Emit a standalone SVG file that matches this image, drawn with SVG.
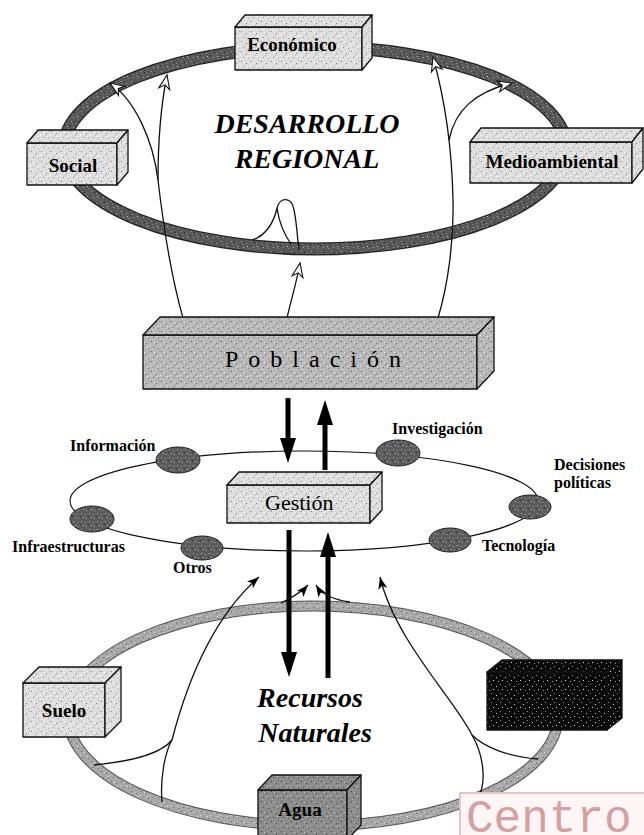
<svg xmlns="http://www.w3.org/2000/svg" width="644" height="835" viewBox="0 0 644 835">
<defs>
<pattern id="pL" width="10" height="10" patternUnits="userSpaceOnUse">
<rect width="10" height="10" fill="#dedede"/>
<rect x="1" y="1" width="1" height="1" fill="#8a8a8a"/><rect x="6" y="3" width="1" height="1" fill="#7c7c7c"/>
<rect x="3" y="7" width="1" height="1" fill="#909090"/><rect x="8" y="8" width="1" height="1" fill="#a0a0a0"/>
<rect x="4" y="2" width="1" height="1" fill="#fff"/><rect x="0" y="5" width="1" height="1" fill="#fff"/>
<rect x="7" y="6" width="1" height="1" fill="#fff"/><rect x="2" y="9" width="1" height="1" fill="#f4f4f4"/>
<rect x="5" y="5" width="1" height="1" fill="#b0b0b0"/><rect x="9" y="1" width="1" height="1" fill="#b4b4b4"/>
</pattern>
<pattern id="pM" width="10" height="10" patternUnits="userSpaceOnUse">
<rect width="10" height="10" fill="#b9b9b9"/>
<rect x="1" y="1" width="1" height="1" fill="#606060"/><rect x="6" y="3" width="1" height="1" fill="#6a6a6a"/>
<rect x="3" y="7" width="1" height="1" fill="#707070"/><rect x="8" y="8" width="1" height="1" fill="#777"/>
<rect x="4" y="2" width="1" height="1" fill="#eee"/><rect x="0" y="5" width="1" height="1" fill="#e6e6e6"/>
<rect x="7" y="6" width="1" height="1" fill="#f2f2f2"/><rect x="2" y="9" width="1" height="1" fill="#ddd"/>
<rect x="5" y="5" width="1" height="1" fill="#888"/><rect x="9" y="1" width="1" height="1" fill="#909090"/>
</pattern>
<pattern id="pA" width="10" height="10" patternUnits="userSpaceOnUse">
<rect width="10" height="10" fill="#8c8c8c"/>
<rect x="1" y="1" width="1" height="1" fill="#3c3c3c"/><rect x="6" y="3" width="1" height="1" fill="#444"/>
<rect x="3" y="7" width="1" height="1" fill="#4a4a4a"/><rect x="8" y="8" width="1" height="1" fill="#555"/>
<rect x="4" y="2" width="1" height="1" fill="#c8c8c8"/><rect x="0" y="5" width="1" height="1" fill="#bdbdbd"/>
<rect x="7" y="6" width="1" height="1" fill="#ccc"/><rect x="2" y="9" width="1" height="1" fill="#b0b0b0"/>
</pattern>
<pattern id="pRT" width="10" height="10" patternUnits="userSpaceOnUse">
<rect width="10" height="10" fill="#575757"/>
<rect x="1" y="1" width="1" height="1" fill="#a0a0a0"/><rect x="6" y="3" width="1" height="1" fill="#999"/>
<rect x="3" y="7" width="1" height="1" fill="#b0b0b0"/><rect x="8" y="8" width="1" height="1" fill="#8c8c8c"/>
<rect x="4" y="2" width="1" height="1" fill="#222"/><rect x="0" y="5" width="1" height="1" fill="#2a2a2a"/>
<rect x="7" y="6" width="1" height="1" fill="#ccc"/><rect x="2" y="4" width="1" height="1" fill="#888"/>
</pattern>
<pattern id="pRB" width="10" height="10" patternUnits="userSpaceOnUse">
<rect width="10" height="10" fill="#a8a8a8"/>
<rect x="1" y="1" width="1" height="1" fill="#5e5e5e"/><rect x="6" y="3" width="1" height="1" fill="#666"/>
<rect x="3" y="7" width="1" height="1" fill="#707070"/><rect x="8" y="8" width="1" height="1" fill="#6a6a6a"/>
<rect x="4" y="2" width="1" height="1" fill="#e4e4e4"/><rect x="0" y="5" width="1" height="1" fill="#ddd"/>
<rect x="7" y="6" width="1" height="1" fill="#eee"/>
</pattern>
<pattern id="pB" width="8" height="8" patternUnits="userSpaceOnUse">
<rect width="8" height="8" fill="#5c5c5c"/>
<rect x="1" y="1" width="1" height="1" fill="#b4b4b4"/><rect x="5" y="2" width="1" height="1" fill="#999"/>
<rect x="3" y="5" width="1" height="1" fill="#c4c4c4"/><rect x="6" y="6" width="1" height="1" fill="#a8a8a8"/>
<rect x="0" y="4" width="1" height="1" fill="#2a2a2a"/>
</pattern>
<pattern id="pD" width="9" height="9" patternUnits="userSpaceOnUse">
<rect width="9" height="9" fill="#0a0a0a"/>
<rect x="1" y="2" width="1" height="1" fill="#d0d0d0"/><rect x="5" y="0" width="1" height="1" fill="#888"/>
<rect x="7" y="5" width="1" height="1" fill="#e0e0e0"/><rect x="3" y="6" width="1" height="1" fill="#999"/>
</pattern>
<marker id="mh" markerUnits="userSpaceOnUse" markerWidth="1" markerHeight="1" refX="0" refY="0" orient="auto" overflow="visible">
<path d="M-14,-5.5 L0,0 L-14,5.5 L-10,0 Z" fill="#fff" stroke="#111" stroke-width="1.1" stroke-linejoin="miter"/>
</marker>
<marker id="ms" markerUnits="userSpaceOnUse" markerWidth="1" markerHeight="1" refX="0" refY="0" orient="auto" overflow="visible">
<path d="M-12,-4.5 L0,0 L-12,4.5 L-9,0 Z" fill="#000"/>
</marker>
<marker id="mt" markerUnits="userSpaceOnUse" markerWidth="1" markerHeight="1" refX="0" refY="0" orient="auto" overflow="visible">
<path d="M-1,-8 L24,0 L-1,8 Z" fill="#000"/>
</marker>
</defs>
<style>
.box{stroke:#111;stroke-width:1.3;stroke-linejoin:round}
.lbl{font-family:"Liberation Serif","Times New Roman",serif;font-weight:bold;font-size:19px;fill:#000;text-anchor:middle}
.small{font-family:"Liberation Serif","Times New Roman",serif;font-weight:bold;font-size:16px;fill:#000}
.title{font-family:"Liberation Serif","Times New Roman",serif;font-weight:bold;font-style:italic;font-size:28px;fill:#000;text-anchor:middle}
.thin{fill:none;stroke:#111;stroke-width:1.3}
.thick{fill:none;stroke:#000;stroke-width:5}
.blob{fill:url(#pB);stroke:#222;stroke-width:1}
</style>

<g id="desarrollo-regional">
<ellipse cx="315" cy="148" rx="251" ry="101" fill="none" stroke="#222" stroke-width="13"/>
<ellipse cx="315" cy="148" rx="251" ry="101" fill="none" stroke="url(#pRT)" stroke-width="10.5"/>
<text class="title" x="307" y="133">DESARROLLO</text>
<text class="title" x="307" y="168">REGIONAL</text>
</g>

<g id="recursos-naturales">
<ellipse cx="313" cy="716" rx="245" ry="110" fill="none" stroke="#555" stroke-width="11"/>
<ellipse cx="313" cy="716" rx="245" ry="110" fill="none" stroke="url(#pRB)" stroke-width="9"/>
<text class="title" x="310" y="707">Recursos</text>
<text class="title" x="315" y="742">Naturales</text>
</g>

<g id="gestion-ciclo">
<ellipse cx="304" cy="501" rx="234" ry="50" fill="none" stroke="#111" stroke-width="1.2"/>
<g id="informacion"><ellipse class="blob" cx="178" cy="460" rx="22" ry="13"/><text class="small" x="70" y="451">Información</text></g>
<g id="investigacion"><ellipse class="blob" cx="398" cy="453" rx="22" ry="13"/><text class="small" x="392" y="434">Investigación</text></g>
<g id="decisiones"><ellipse class="blob" cx="530" cy="507" rx="21" ry="12"/><text class="small" x="554" y="470">Decisiones</text><text class="small" x="554" y="488">políticas</text></g>
<g id="tecnologia"><ellipse class="blob" cx="450" cy="540" rx="21" ry="12"/><text class="small" x="482" y="551">Tecnología</text></g>
<g id="otros"><ellipse class="blob" cx="202" cy="548" rx="21" ry="12"/><text class="small" x="173" y="573">Otros</text></g>
<g id="infraestructuras"><ellipse class="blob" cx="92" cy="519" rx="22" ry="13"/><text class="small" x="12" y="552">Infraestructuras</text></g>
</g>

<g id="connectors">
<path class="thin" d="M183,318 C175,290 165,240 158,180 C153,140 135,100 110,83" marker-end="url(#mh)"/>
<path class="thin" d="M158,180 C158,150 160,110 167,75" marker-end="url(#mh)"/>
<path class="thin" d="M287,318 C291,300 296,285 300,263" marker-end="url(#mh)"/>
<path class="thin" d="M438,318 C448,285 454,240 453,200 C452,150 445,100 433,57" marker-end="url(#mh)"/>
<path class="thin" d="M449,140 C455,110 475,92 512,83" marker-end="url(#mh)"/>
<path class="thin" d="M252,240 C266,236 274,222 277,208 C280,196 292,197 294,210 C297,224 297,236 299,250 M277,208 C279,222 284,234 291,244"/>
<path class="thick" d="M288,398 L288,439" marker-end="url(#mt)"/>
<path class="thick" d="M325,470 L325,424" marker-end="url(#mt)"/>
<path class="thick" d="M289,530 L289,653" marker-end="url(#mt)"/>
<path class="thick" d="M328,678 L328,556" marker-end="url(#mt)"/>
<path class="thin" d="M172,740 C185,690 210,620 259,577" marker-end="url(#ms)"/>
<path class="thin" d="M94,765 C125,762 160,755 172,740"/>
<path class="thin" d="M162,802 C160,778 165,752 172,740"/>
<path class="thin" d="M472,735 C455,700 395,640 380,577" marker-end="url(#ms)"/>
<path class="thin" d="M538,759 C510,757 485,748 472,735"/>
<path class="thin" d="M478,798 C488,780 482,752 472,735"/>
<path class="thin" d="M281,603 C290,598 300,594 308,585" marker-end="url(#ms)"/>
<path class="thin" d="M350,602 C335,600 322,595 316,585" marker-end="url(#ms)"/>
</g>

<g id="economico">
<rect class="box" x="235" y="27" width="127" height="43" fill="url(#pL)"/>
<polygon class="box" points="235,27 245,15 372,15 362,27" fill="url(#pL)"/>
<polygon class="box" points="362,27 372,15 372,58 362,70" fill="url(#pL)"/>
<text class="lbl" x="292" y="51">Económico</text>
</g>
<g id="social">
<rect class="box" x="27" y="143" width="90" height="42" fill="url(#pL)"/>
<polygon class="box" points="27,143 38,130 128,130 117,143" fill="url(#pL)"/>
<polygon class="box" points="117,143 128,130 128,172 117,185" fill="url(#pL)"/>
<text class="lbl" x="73" y="172">Social</text>
</g>
<g id="medioambiental">
<rect class="box" x="470" y="142" width="162" height="41" fill="url(#pL)"/>
<polygon class="box" points="470,142 481,128 643,128 632,142" fill="url(#pL)"/>
<polygon class="box" points="632,142 643,128 643,169 632,183" fill="url(#pL)"/>
<text class="lbl" x="552" y="168">Medioambiental</text>
</g>
<g id="poblacion">
<rect class="box" x="143" y="335" width="334" height="54" fill="url(#pM)"/>
<polygon class="box" points="143,335 160,317 494,317 477,335" fill="url(#pM)"/>
<polygon class="box" points="477,335 494,317 494,371 477,389" fill="url(#pM)"/>
<text x="225" y="367" font-family="'Liberation Serif','Times New Roman',serif" font-size="24" letter-spacing="10" fill="#000">Población</text>
</g>
<g id="gestion">
<rect class="box" x="227" y="485" width="143" height="38" fill="url(#pL)"/>
<polygon class="box" points="227,485 239,472 382,472 370,485" fill="url(#pL)"/>
<polygon class="box" points="370,485 382,472 382,510 370,523" fill="url(#pL)"/>
<text x="265" y="510" font-family="'Liberation Serif','Times New Roman',serif" font-size="22" fill="#000">Gestión</text>
</g>
<g id="suelo">
<rect class="box" x="23" y="683" width="82" height="54" fill="url(#pL)"/>
<polygon class="box" points="23,683 39,667 121,667 105,683" fill="url(#pL)"/>
<polygon class="box" points="105,683 121,667 121,721 105,737" fill="url(#pL)"/>
<text class="lbl" x="64" y="717">Suelo</text>
</g>
<g id="caja-oscura">
<rect class="box" x="487" y="672" width="120" height="58" fill="url(#pD)"/>
<polygon class="box" points="487,672 502,660 622,660 607,672" fill="url(#pD)"/>
<polygon class="box" points="607,672 622,660 622,718 607,730" fill="url(#pD)"/>
</g>
<g id="agua">
<rect class="box" x="258" y="790" width="89" height="50" fill="url(#pA)"/>
<polygon class="box" points="258,790 272,775 361,775 347,790" fill="url(#pA)"/>
<polygon class="box" points="347,790 361,775 361,825 347,840" fill="url(#pA)"/>
<text class="lbl" x="300" y="816">Agua</text>
</g>

<g id="centro-marca">
<rect x="460" y="793" width="190" height="50" fill="#fdf6f6" stroke="#e6c3c3" stroke-width="2"/>
<text x="466" y="832" font-family="'Liberation Mono','Courier New',monospace" font-size="46" fill="#d6a0a0">Centro</text>
</g>
</svg>
